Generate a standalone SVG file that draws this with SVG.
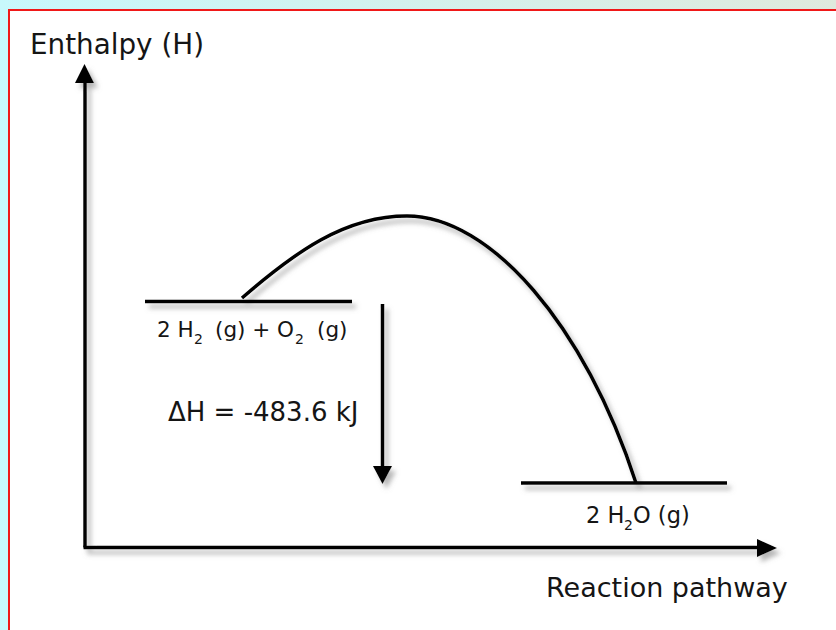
<svg xmlns="http://www.w3.org/2000/svg" width="836" height="630" viewBox="0 0 836 630">
  <defs>
    <linearGradient id="bg" x1="0" y1="0" x2="1" y2="0">
      <stop offset="0" stop-color="#c8f8fc"/>
      <stop offset="1" stop-color="#dfeadd"/>
    </linearGradient>
    <filter id="sh" filterUnits="userSpaceOnUse" x="0" y="0" width="836" height="630">
      <feDropShadow dx="4" dy="5" stdDeviation="2.5" flood-color="#777" flood-opacity="0.55"/>
    </filter>
  </defs>
  <style>
    .t { font-family: "DejaVu Sans", Verdana, sans-serif; fill: #151515; }
    .ln { stroke: #000; fill: none; stroke-width: 3.5; }
  </style>
  <rect x="0" y="0" width="836" height="630" fill="url(#bg)"/>
  <rect x="9" y="10" width="840" height="640" fill="#fff" stroke="#f01818" stroke-width="2"/>

  <g id="connectors" filter="url(#sh)">
    <path class="ln" d="M85,547.5 L85,82"/>
    <path d="M75,83 L84.5,64 L94,83 Z" fill="#000"/>
    <path class="ln" d="M83.5,547.5 L758,547.5"/>
    <path d="M757,539 L777,548 L757,557 Z" fill="#000"/>
    <path class="ln" d="M242,298 C295,252 345,216 407,216 C490,216 585,325 636,483"/>
    <path class="ln" d="M382.5,304 L382.5,467"/>
    <path d="M373,466 L392,466 L382.5,484 Z" fill="#000"/>
  </g>

  <g id="reactants">
    <path class="ln" d="M145,301.5 L352,301.5" filter="url(#sh)"/>
    <text class="t" font-size="21.5" y="337"><tspan x="157">2 H</tspan><tspan x="194" y="344" font-size="14">2</tspan><tspan x="215" y="337">(g) + O</tspan><tspan x="295" y="344" font-size="14">2</tspan><tspan x="317" y="337">(g)</tspan></text>
  </g>

  <g id="products">
    <path class="ln" d="M521,483 L727,483" filter="url(#sh)"/>
    <text class="t" font-size="22.5" y="523"><tspan x="586">2 H</tspan><tspan x="624" y="530" font-size="14">2</tspan><tspan x="633" y="523">O (g)</tspan></text>
  </g>

  <g id="delta">
    <text class="t" x="168" y="421" font-size="26">ΔH = -483.6 kJ</text>
  </g>

  <g id="labels">
    <text class="t" x="30" y="54" font-size="27.8">Enthalpy (H)</text>
    <text class="t" x="546" y="597" font-size="27">Reaction pathway</text>
  </g>
</svg>
